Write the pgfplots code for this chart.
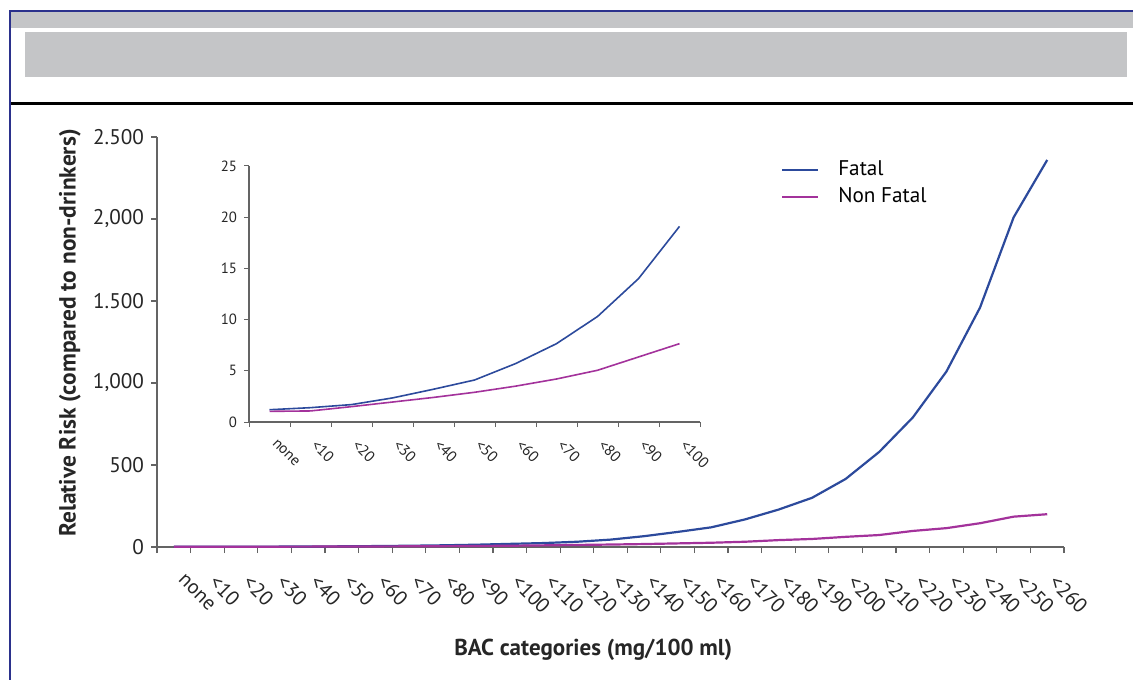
\documentclass[border=0pt]{standalone}
\usepackage{pgfplots}
\pgfplotsset{compat=1.18}
\usepackage{pgfplotstable}
\usepackage{fontspec}
\setmainfont{PT Sans}
\definecolor{fatalblue}{RGB}{44,74,156}
\definecolor{nonfatal}{RGB}{163,50,155}
\definecolor{framenavy}{RGB}{43,49,140}
\definecolor{bandgray}{RGB}{196,197,199}
\definecolor{axgray}{RGB}{100,100,100}

\pgfplotstableread{
x fatal nonfatal
0 1.2 1.04
1 1.4 1.08
2 1.7 1.5
3 2.35 1.95
4 3.2 2.4
5 4.1 2.9
6 5.7 3.5
7 7.65 4.2
8 10.3 5.05
9 14.0 6.35
10 19.1 7.65
11 24 10
12 32 12.5
13 45 15
14 66 18
15 92 22
16 120 26
17 168 32
18 228 42
19 300 49
20 415 62
21 580 73
22 790 98
23 1070 115
24 1460 145
25 2010 185
26 2360 200
}\maintable

\pgfplotstableread{
x fatal nonfatal
0 1.2 1.04
1 1.4 1.08
2 1.7 1.5
3 2.35 1.95
4 3.2 2.4
5 4.1 2.9
6 5.7 3.5
7 7.65 4.2
8 10.3 5.05
9 14.0 6.35
10 19.1 7.65
}\insettable

\begin{document}
\begin{tikzpicture}
\useasboundingbox (0,0) rectangle (566.5pt,340pt);
% frame
\fill[bandgray] (5.5pt,326pt) rectangle (566.5pt,334pt);
\fill[bandgray] (12.5pt,301.5pt) rectangle (563.5pt,324pt);
\draw[framenavy, line width=0.6pt] (4.5pt,334.5pt) -- (566.5pt,334.5pt);
\draw[framenavy, line width=1pt] (5pt,334.5pt) -- (5pt,0pt);
\draw[black, line width=1.5pt] (5.5pt,288.25pt) -- (566.5pt,288.25pt);

% main axis
\begin{axis}[
  at={(78.5pt,66.5pt)}, anchor=south west,
  scale only axis, width=453.5pt, height=205pt,
  xmin=-0.5, xmax=26.5, ymin=0, ymax=2500,
  axis x line*=bottom, axis y line*=left,
  axis line style={axgray, line width=0.8pt},
  tick align=outside, major tick length=3pt,
  tick style={axgray, line width=0.6pt},
  xtick={-0.5,0.5,...,26.5},
  x tick label as interval,
  xticklabels={none,<10,<20,<30,<40,<50,<60,<70,<80,<90,<100,<110,<120,<130,<140,<150,<160,<170,<180,<190,<200,<210,<220,<230,<240,<250,<260},
  xticklabel style={xshift=5.6pt, yshift=-5.3pt, rotate=-45, anchor=north west, font=\fontsize{10.2}{12}\selectfont, text=black!85},
  ytick={0,500,1000,1500,2000,2500},
  yticklabels={0,500,{1,000},{1.500},{2,000},{2.500}},
  yticklabel style={font=\fontsize{10.6}{12}\selectfont, text=black!85},
  xlabel={BAC categories (mg/100 ml)},
  xlabel style={at={(axis description cs:0.481,-0.25)}, anchor=center, font=\bfseries\fontsize{11.5}{13}\selectfont, text=black!85},
  ylabel={Relative Risk (compared to non-drinkers)},
  ylabel style={at={(axis description cs:-0.096,0.522)}, anchor=center, font=\bfseries\fontsize{11.7}{13}\selectfont, text=black!85},
  legend style={at={(0.681,0.962)}, anchor=north west, draw=none, fill=none, font=\fontsize{10.6}{12}\selectfont, row sep=0.5pt},
  legend cell align=left,
  legend image code/.code={\draw[#1] (0pt,0pt) -- (18pt,0pt); \path (25.5pt,0pt);},
]
\addplot[fatalblue, line width=1.1pt] table[x=x, y=fatal] {\maintable};
\addlegendentry{Fatal}
\addplot[nonfatal, line width=1.1pt] table[x=x, y=nonfatal] {\maintable};
\addlegendentry{Non Fatal}
\end{axis}

% inset axis
\begin{axis}[
  at={(124.5pt,129pt)}, anchor=south west,
  scale only axis, width=225.5pt, height=128pt,
  xmin=-0.5, xmax=10.5, ymin=0, ymax=25,
  axis x line*=bottom, axis y line*=left,
  axis line style={axgray, line width=0.6pt},
  tick align=outside, major tick length=2.5pt,
  tick style={axgray, line width=0.5pt},
  xtick={-0.5,0.5,...,10.5},
  x tick label as interval,
  xticklabels={none,<10,<20,<30,<40,<50,<60,<70,<80,<90,<100},
  xticklabel style={xshift=3.9pt, yshift=-0.8pt, rotate=-45, anchor=north west, font=\fontsize{7.6}{9}\selectfont, text=black!85},
  ytick={0,5,10,15,20,25},
  /pgf/number format/assume math mode=true,
  yticklabel style={font=\fontsize{7.4}{9}\selectfont, text=black!85},
]
\addplot[fatalblue, line width=0.8pt] table[x=x, y=fatal] {\insettable};
\addplot[nonfatal, line width=0.8pt] table[x=x, y=nonfatal] {\insettable};
\end{axis}
\end{tikzpicture}
\end{document}
